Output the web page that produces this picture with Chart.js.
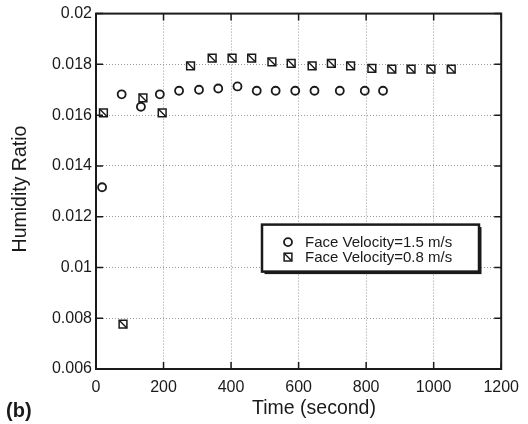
<!DOCTYPE html>
<html>
<head>
<meta charset="utf-8">
<script src="https://cdn.jsdelivr.net/npm/chart.js@4.4.0/dist/chart.umd.min.js"></script>
<style>
  html, body { margin: 0; padding: 0; background: #fff; }
</style>
</head>
<body>
<canvas id="humidityChart" width="528" height="424"></canvas>
<script>
// data
const timeV15 = [18, 76, 133, 189, 246, 305, 362, 419, 476, 532, 590, 647, 722, 796, 850];
const humV15 = [0.01316, 0.01682, 0.01633, 0.01682, 0.01696, 0.01700, 0.01705, 0.01713, 0.01696,
    0.01696, 0.01696, 0.01696, 0.01696, 0.01696, 0.01696];
const timeV08 = [22, 80, 139, 196, 280, 344, 403, 461, 521, 578, 640, 697, 754, 817, 876, 933, 992, 1052];
const humV08 = [0.01609, 0.00777, 0.01668, 0.01609, 0.01794, 0.01825, 0.01825, 0.01825, 0.01810,
    0.01804, 0.01794, 0.01804, 0.01794, 0.01784, 0.01781, 0.01781, 0.01781, 0.01781];
const seriesLabels = ['Face Velocity=1.5 m/s', 'Face Velocity=0.8 m/s'];
const xTickLabels = ['0', '200', '400', '600', '800', '1000', '1200'];
const yTickLabels = ['0.006', '0.008', '0.01', '0.012', '0.014', '0.016', '0.018', '0.02'];
const xTitle = 'Time (second)';
const yTitle = 'Humidity Ratio';
const panelTag = '(b)';

const FONT = '"Liberation Sans", Arial, sans-serif';
const INK = '#1a1a1a';
const tickLen = 7;
const sqRadius = 5.5;

function toPoints(xs, ys) {
    return xs.map((t, i) => ({ x: t, y: ys[i] }));
}

// slash across a square marker, top-left to bottom-right
function slash(ctx, cx, cy) {
    const h = sqRadius * Math.SQRT1_2;
    ctx.beginPath();
    ctx.moveTo(cx - h, cy - h);
    ctx.lineTo(cx + h, cy + h);
    ctx.stroke();
}

const framePlugin = {
    id: 'frame',
    afterDatasetsDraw(chart) {
        const { ctx, chartArea: a, scales: { x, y } } = chart;
        ctx.save();
        ctx.strokeStyle = INK;
        ctx.lineWidth = 1.4;
        chart.getDatasetMeta(1).data.forEach(el => slash(ctx, el.x, el.y));

        ctx.lineWidth = 1.5;
        ctx.beginPath();
        x.ticks.forEach(t => {
            const px = x.getPixelForValue(t.value);
            ctx.moveTo(px, a.bottom); ctx.lineTo(px, a.bottom - tickLen);
            ctx.moveTo(px, a.top); ctx.lineTo(px, a.top + tickLen);
        });
        y.ticks.forEach(t => {
            const py = y.getPixelForValue(t.value);
            ctx.moveTo(a.left, py); ctx.lineTo(a.left + tickLen, py);
            ctx.moveTo(a.right, py); ctx.lineTo(a.right - tickLen, py);
        });
        ctx.stroke();
        ctx.lineWidth = 2;
        ctx.strokeRect(a.left, a.top, a.right - a.left, a.bottom - a.top);
        ctx.restore();
    },
    afterDraw(chart) {
        const { ctx, chartArea: a } = chart;
        ctx.save();

        // legend box inside the plot
        const bx = a.left + 166, by = a.top + 211, bw = 217, bh = 47;
        ctx.fillStyle = INK;
        ctx.fillRect(bx + 2.5, by + 2.5, bw, bh);
        ctx.fillStyle = '#fff';
        ctx.fillRect(bx, by, bw, bh);
        ctx.strokeStyle = INK;
        ctx.lineWidth = 2.5;
        ctx.strokeRect(bx, by, bw, bh);

        ctx.font = '15px ' + FONT;
        ctx.textBaseline = 'middle';
        ctx.textAlign = 'left';
        chart.data.datasets.forEach((ds, i) => {
            const ry = by + 17.5 + i * 15;
            const mx = bx + 26;
            ctx.strokeStyle = INK;
            if (ds.pointStyle === 'circle') {
                ctx.beginPath();
                ctx.arc(mx, ry, 4, 0, Math.PI * 2);
                ctx.lineWidth = 1.8;
                ctx.stroke();
            } else {
                const h = sqRadius * Math.SQRT1_2;
                ctx.lineWidth = 1.5;
                ctx.strokeRect(mx - h, ry - h, 2 * h, 2 * h);
                ctx.lineWidth = 1.4;
                slash(ctx, mx, ry);
            }
            ctx.fillStyle = INK;
            ctx.fillText(ds.label, bx + 43, ry + 0.5);
        });

        // axis titles and panel tag
        ctx.fillStyle = INK;
        ctx.font = '19.5px ' + FONT;
        ctx.textAlign = 'center';
        ctx.fillText(xTitle, 314, 409);
        ctx.save();
        ctx.translate(21, 189);
        ctx.rotate(-Math.PI / 2);
        ctx.fillText(yTitle, 0, 0);
        ctx.restore();
        ctx.font = 'bold 20px ' + FONT;
        ctx.textAlign = 'left';
        ctx.fillText(panelTag, 6, 411);
        ctx.restore();
    }
};

const ctxHum = document.getElementById('humidityChart').getContext('2d');

const humidityChart = new Chart(ctxHum, {
    type: 'scatter',
    data: {
        datasets: [{
            label: seriesLabels[0],
            data: toPoints(timeV15, humV15),
            pointStyle: 'circle',
            pointRadius: 4,
            pointBorderWidth: 1.8,
            borderColor: INK,
            backgroundColor: 'rgba(0,0,0,0)',
            order: 1
        }, {
            label: seriesLabels[1],
            data: toPoints(timeV08, humV08),
            pointStyle: 'rect',
            pointRadius: sqRadius,
            pointBorderWidth: 1.5,
            borderColor: INK,
            backgroundColor: '#fff',
            order: 0
        }]
    },
    options: {
        responsive: false,
        animation: false,
        layout: { padding: { top: 13, right: 23, left: 0, bottom: 0 } },
        plugins: {
            legend: { display: false },
            tooltip: { enabled: false }
        },
        scales: {
            x: {
                type: 'linear',
                min: 0,
                max: 1200,
                afterFit(s) { s.height = 55; },
                ticks: {
                    stepSize: 200,
                    padding: 9,
                    color: INK,
                    font: { family: FONT, size: 16 },
                    callback: (v, i) => xTickLabels[i]
                },
                grid: { color: '#9a9a9a', lineWidth: 1, drawTicks: false },
                border: { display: true, color: INK, width: 2, dash: [1, 2] }
            },
            y: {
                min: 0.006,
                max: 0.02,
                afterFit(s) { s.width = 96; },
                ticks: {
                    stepSize: 0.002,
                    padding: 4,
                    color: INK,
                    font: { family: FONT, size: 16 },
                    callback: (v, i) => yTickLabels[i]
                },
                grid: { color: '#9a9a9a', lineWidth: 1, drawTicks: false },
                border: { display: true, color: INK, width: 2, dash: [1, 2] }
            }
        }
    },
    plugins: [framePlugin]
});
</script>
</body>
</html>
